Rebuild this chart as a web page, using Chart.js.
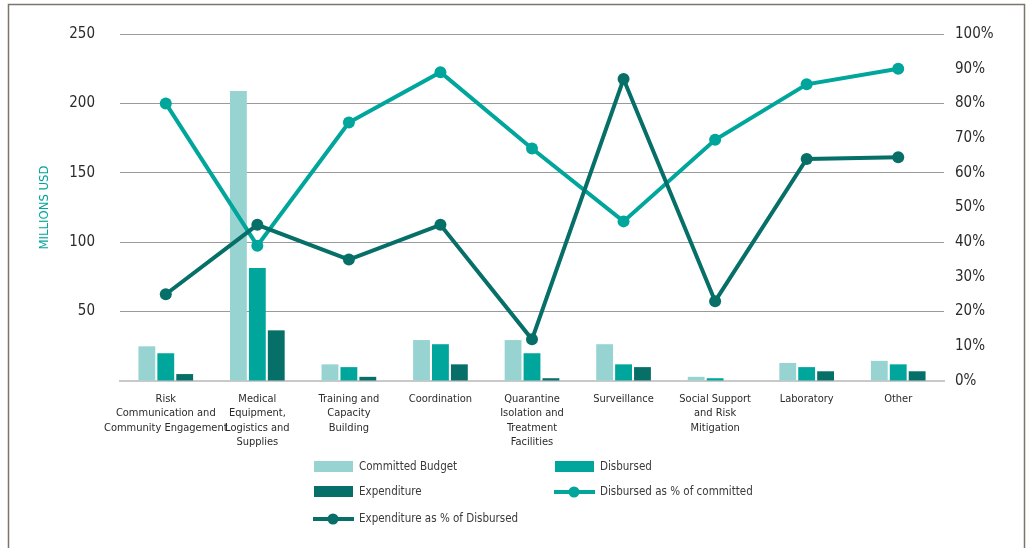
<!DOCTYPE html>
<html>
<head>
<meta charset="utf-8">
<style>
  html, body { margin: 0; padding: 0; background: #fff; overflow: hidden; }
  canvas { display: block; }
</style>
</head>
<body>
<canvas id="fundChart" width="1032" height="548"></canvas>

<script src="https://cdn.jsdelivr.net/npm/chart.js"></script>
<script>
  const categories = [
    ['Risk', 'Communication and', 'Community Engagement'],
    ['Medical', 'Equipment,', 'Logistics and', 'Supplies'],
    ['Training and', 'Capacity', 'Building'],
    ['Coordination'],
    ['Quarantine', 'Isolation and', 'Treatment', 'Facilities'],
    ['Surveillance'],
    ['Social Support', 'and Risk', 'Mitigation'],
    ['Laboratory'],
    ['Other']
  ];
  const committedBudget = [25, 209, 12, 29.5, 29.5, 26.5, 3, 13, 14.5];
  const disbursed = [20, 81.5, 10, 26.5, 20, 12, 2, 10, 12];
  const expenditure = [5, 36.5, 3, 12, 2, 10, 0, 7, 7];
  const disbursedPct = [80, 39, 74.5, 89, 67, 46, 69.5, 85.5, 90];
  const expenditurePct = [25, 45, 35, 45, 12, 87, 23, 64, 64.5];
  const leftTicks = [0, 250, 50];   // min, max, step
  const rightTicks = [0, 100, 10];

  const LIGHT = '#97d4d1';
  const TEAL = '#00a59b';
  const DARK = '#066f68';
  const FONT = "'Liberation Sans Narrow', 'DejaVu Sans Condensed', 'Roboto', sans-serif";
  const TEXT = '#2b2b2b';

  // frame round the chart
  const framePlugin = {
    id: 'frame',
    beforeDraw(chart) {
      const c = chart.ctx;
      c.save();
      c.strokeStyle = '#7b756b';
      c.lineWidth = 1.5;
      c.strokeRect(8.5, 4.5, 1016, 620);
      c.restore();
    }
  };

  // two-column legend under the x labels
  const legendPlugin = {
    id: 'gridLegend',
    afterDraw(chart) {
      const c = chart.ctx;
      const spots = [
        { x: 314, y: 467 }, { x: 555, y: 467 },
        { x: 314, y: 492 }, { x: 555, y: 492 },
        { x: 314, y: 519 }
      ];
      c.save();
      c.font = '11.5px ' + FONT;
      c.textBaseline = 'middle';
      chart.data.datasets.forEach((ds, i) => {
        const s = spots[i];
        if (ds.type === 'line') {
          c.strokeStyle = ds.borderColor;
          c.lineWidth = 4;
          c.beginPath();
          c.moveTo(s.x - 1, s.y);
          c.lineTo(s.x + 40, s.y);
          c.stroke();
          c.fillStyle = ds.borderColor;
          c.beginPath();
          c.arc(s.x + 19, s.y, 5.5, 0, Math.PI * 2);
          c.fill();
        } else {
          c.fillStyle = ds.backgroundColor;
          c.fillRect(s.x, s.y - 6, 39, 11);
        }
        c.fillStyle = '#3a3a3a';
        c.fillText(ds.label, s.x + 45, s.y);
      });
      c.restore();
    }
  };

  const ctx = document.getElementById('fundChart').getContext('2d');
  new Chart(ctx, {
    data: {
      labels: categories,
      datasets: [
        {
          type: 'bar',
          label: 'Committed Budget',
          data: committedBudget,
          backgroundColor: LIGHT,
          yAxisID: 'y',
          order: 2,
          categoryPercentage: 0.62,
          barPercentage: 0.89
        },
        {
          type: 'bar',
          label: 'Disbursed',
          data: disbursed,
          backgroundColor: TEAL,
          yAxisID: 'y',
          order: 2,
          categoryPercentage: 0.62,
          barPercentage: 0.89
        },
        {
          type: 'bar',
          label: 'Expenditure',
          data: expenditure,
          backgroundColor: DARK,
          yAxisID: 'y',
          order: 2,
          categoryPercentage: 0.62,
          barPercentage: 0.89
        },
        {
          type: 'line',
          label: 'Disbursed as % of committed',
          data: disbursedPct,
          borderColor: TEAL,
          backgroundColor: TEAL,
          borderWidth: 4,
          pointRadius: 6,
          pointBorderWidth: 0,
          yAxisID: 'y1',
          order: 1,
          tension: 0
        },
        {
          type: 'line',
          label: 'Expenditure as % of Disbursed',
          data: expenditurePct,
          borderColor: DARK,
          backgroundColor: DARK,
          borderWidth: 4,
          pointRadius: 6,
          pointBorderWidth: 0,
          yAxisID: 'y1',
          order: 0,
          tension: 0
        }
      ]
    },
    options: {
      responsive: false,
      animation: false,
      layout: { padding: { top: 34, left: 0, right: 0, bottom: 0 } },
      plugins: {
        legend: { display: false },
        tooltip: { enabled: false }
      },
      scales: {
        x: {
          grid: { display: false, drawTicks: false },
          border: { color: '#c9c9c9', width: 2 },
          ticks: {
            color: TEXT,
            font: { family: FONT, size: 11, lineHeight: 1.3 },
            padding: 11,
            maxRotation: 0,
            minRotation: 0,
            autoSkip: false
          },
          afterFit: scale => { scale.height = 167; }
        },
        y: {
          position: 'left',
          min: leftTicks[0],
          max: leftTicks[1],
          grid: {
            color: c => c.tick.value === 0 ? 'rgba(0,0,0,0)' : '#9a9a9a',
            drawTicks: false
          },
          border: { display: false },
          ticks: {
            stepSize: leftTicks[2],
            color: TEXT,
            font: { family: FONT, size: 15 },
            padding: 25,
            callback: v => v === 0 ? '' : v
          },
          title: {
            display: true,
            text: 'MILLIONS USD',
            color: TEAL,
            font: { family: FONT, size: 13 },
            padding: { top: 37, bottom: 0 }
          },
          afterFit: scale => { scale.width = 120; }
        },
        y1: {
          position: 'right',
          min: rightTicks[0],
          max: rightTicks[1],
          grid: { display: false, drawTicks: false },
          border: { display: false },
          ticks: {
            stepSize: rightTicks[2],
            color: TEXT,
            font: { family: FONT, size: 15 },
            padding: 11,
            callback: v => v + '%'
          },
          afterFit: scale => { scale.width = 88; }
        }
      }
    },
    plugins: [framePlugin, legendPlugin]
  });
</script>
</body>
</html>
